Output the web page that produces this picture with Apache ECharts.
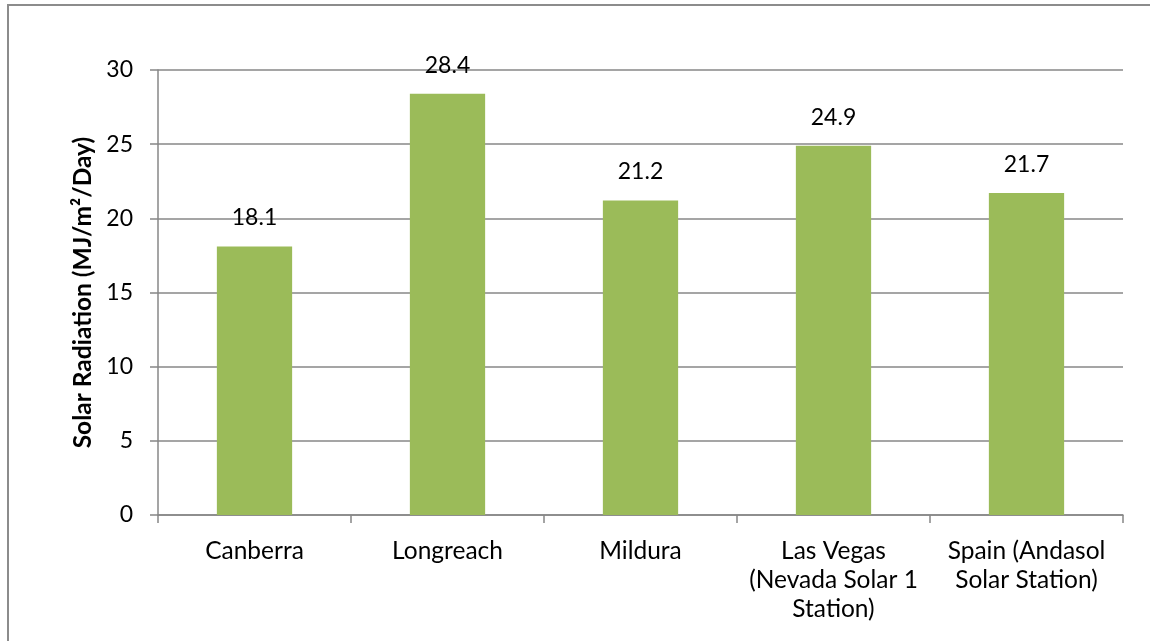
<!DOCTYPE html>
<html>
<head>
<meta charset="utf-8">
<script src="https://cdn.jsdelivr.net/npm/echarts@6/dist/echarts.min.js"></script>
<style>
  html, body { margin: 0; padding: 0; background: #fff; }
  #chart { width: 1150px; height: 641px; }
</style>
</head>
<body>
<div id="chart"></div>
<script>
// data
const sites = ['Canberra', 'Longreach', 'Mildura', 'Las Vegas\n(Nevada Solar 1\nStation)', 'Spain (Andasol\nSolar Station)']
const radiation = [18.1, 28.4, 21.2, 24.9, 21.7]
const yTicks = [0, 5, 10, 15, 20, 25, 30]

const chart = echarts.init(document.getElementById('chart'))
const font = 'Lato'

const option = {
  backgroundColor: '#fff',
  animation: false,
  graphic: [
    {
      type: 'rect',
      shape: { x: 8, y: 5, width: 1160, height: 660 },
      style: { fill: 'none', stroke: '#8c8c8c', lineWidth: 2 },
      silent: true
    }
  ],
  grid: { left: 158, right: 27, top: 70, bottom: 126 },
  xAxis: {
    type: 'category',
    data: sites,
    axisLine: { lineStyle: { color: '#878787', width: 1.5 } },
    axisTick: { show: true, length: 8, lineStyle: { color: '#878787', width: 1.5 } },
    axisLabel: {
      interval: 0,
      margin: 22,
      color: '#000',
      fontFamily: font,
      fontSize: 24.5,
      lineHeight: 29
    }
  },
  yAxis: {
    type: 'value',
    min: yTicks[0],
    max: yTicks[yTicks.length - 1],
    interval: 5,
    name: 'Solar Radiation (MJ/m²/Day)',
    nameLocation: 'middle',
    nameGap: 62,
    nameTextStyle: { color: '#000', fontFamily: font, fontSize: 24.5, fontWeight: 'bold' },
    axisLine: { show: true, lineStyle: { color: '#878787', width: 1.5 } },
    axisTick: { show: true, length: 8, lineStyle: { color: '#878787', width: 1.5 } },
    axisLabel: { color: '#000', fontFamily: font, fontSize: 23, margin: 25 },
    splitLine: { lineStyle: { color: '#878787', width: 1.5 } }
  },
  series: [
    {
      type: 'bar',
      data: radiation,
      barWidth: '39%',
      itemStyle: { color: '#9BBB59' },
      label: {
        show: true,
        position: 'top',
        distance: 17,
        color: '#000',
        fontFamily: font,
        fontSize: 23,
        formatter: p => p.value.toFixed(1)
      }
    }
  ]
}

chart.setOption(option)
</script>
</body>
</html>
